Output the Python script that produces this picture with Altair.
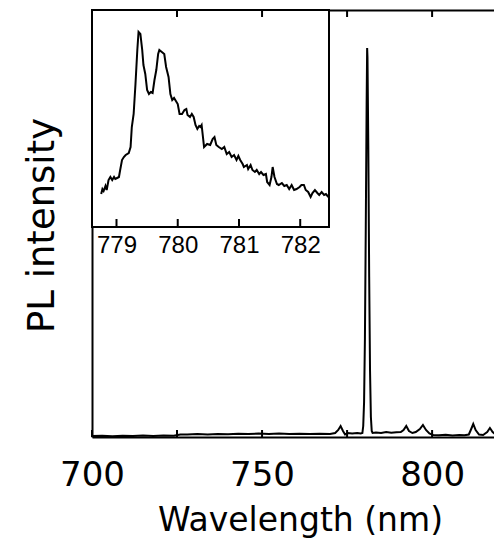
import altair as alt
import pandas as pd

# ---------------- data ----------------
main_wl = [700, 703, 706, 709, 712, 715, 718, 721, 724, 726, 728, 731, 734, 737, 740, 743,
           746, 749, 752, 755, 758, 761, 764, 767, 770, 771.5, 772.4, 773.1, 773.8, 774.4,
           775.2, 776.5, 778, 779, 779.5, 779.75, 780, 780.25, 780.5, 780.75, 780.9, 781.0,
           781.25, 781.5, 781.75, 782, 782.25, 782.5, 783.5, 785, 786.5, 788, 789.5, 790.8,
           791.6, 792.4, 793.2, 794.2, 795.2, 796.4, 797.3, 798.2, 799.2, 800.3, 802, 804,
           806, 808, 809.5, 810.8, 811.5, 812.1, 812.8, 813.8, 815, 816.2, 817, 817.8,
           818.8, 820.5]
main_val = [1.0, 1.2, 0.8, 1.3, 1.0, 1.4, 1.1, 1.5, 1.3, 2.6, 2.4, 2.9, 2.6, 3.1, 2.8, 3.3,
            3.0, 3.4, 3.0, 3.5, 3.1, 3.3, 2.9, 3.2, 3.0, 4.0, 7.0, 11.0, 6.0, 2.5,
            4.0, 3.5, 4.0, 3.5, 4.0, 11.0, 35.0, 99.0, 210.0, 333.0, 389.0, 380.0,
            288.0, 160.0, 66.0, 20.0, 6.0, 4.0, 4.5, 4.0, 5.0, 4.2, 4.8, 5.0,
            7.0, 11.0, 6.0, 4.0, 5.0, 8.0, 12.0, 7.0, 3.5, 2.0, 1.8, 2.2,
            1.6, 2.0, 1.8, 2.5, 8.0, 13.0, 7.0, 2.5, 2.0, 5.0, 9.0, 5.0,
            2.2, 2.0]

inset_wl = [778.75, 778.77, 778.79, 778.82, 778.84, 778.87, 778.9, 778.93, 778.96, 778.98,
            779.01, 779.04, 779.06, 779.09, 779.12, 779.15, 779.2, 779.23, 779.25, 779.28,
            779.31, 779.34, 779.36, 779.39, 779.42, 779.44, 779.47, 779.5, 779.53, 779.56,
            779.59, 779.62, 779.65, 779.68, 779.7, 779.74, 779.78, 779.81, 779.85, 779.88,
            779.91, 779.94, 779.96, 780.0, 780.03, 780.07, 780.11, 780.14, 780.16, 780.2,
            780.23, 780.26, 780.29, 780.32, 780.35, 780.37, 780.39, 780.43, 780.48, 780.53,
            780.57, 780.6, 780.63, 780.67, 780.72, 780.76, 780.8, 780.84, 780.88, 780.92,
            780.96, 780.99, 781.02, 781.06, 781.08, 781.13, 781.15, 781.19, 781.22, 781.26,
            781.29, 781.33, 781.36, 781.4, 781.44, 781.46, 781.5, 781.53, 781.55, 781.58,
            781.62, 781.65, 781.7, 781.74, 781.78, 781.82, 781.86, 781.9, 781.94, 781.99,
            782.02, 782.06, 782.09, 782.13, 782.17, 782.2, 782.24, 782.28, 782.31, 782.35,
            782.39, 782.42, 782.46]
inset_val = [33, 38, 36, 41, 37, 47, 50, 47, 50, 48,
             49, 50, 57, 67, 70, 72, 74, 80, 100, 113,
             143, 177, 195, 193, 177, 162, 153, 137, 133, 135,
             134, 147, 157, 173, 177, 175, 173, 160, 150, 133,
             127, 129, 127, 123, 113, 113, 117, 118, 112, 110,
             113, 110, 102, 98, 101, 100, 102, 80, 83, 82,
             88, 90, 82, 80, 78, 80, 73, 75, 70, 72,
             67, 71, 67, 63, 60, 62, 58, 62, 57, 55,
             57, 53, 55, 52, 53, 45, 42, 50, 60, 50,
             43, 42, 44, 41, 42, 38, 42, 37, 38, 40,
             42, 42, 37, 35, 30, 34, 37, 34, 32, 35,
             32, 33, 30]

main_ticks = [700, 725, 750, 775, 800]
main_labels = [700, 750, 800]
inset_ticks = [779, 780, 781, 782]

MAIN_X = [700, 818.2]
MAIN_Y = [0, 427]
INSET_X = [778.6, 782.47]
INSET_Y = [0, 217]

main_df = pd.DataFrame({"wl": main_wl, "val": main_val})
inset_df = pd.DataFrame({"wl": inset_wl, "val": inset_val})
mt_df = pd.DataFrame({"wl": main_ticks})
it_df = pd.DataFrame({"wl": inset_ticks})
box_df = pd.DataFrame({"x0": [INSET_X[0]], "x1": [INSET_X[1]], "y0": [INSET_Y[0]], "y1": [INSET_Y[1]]})

W, H = 402, 427
IW, IH = 237, 217

main_x_scale = alt.Scale(domain=MAIN_X, nice=False, zero=False)
main_y_scale = alt.Scale(domain=MAIN_Y, nice=False, zero=False)
inset_x_scale = alt.Scale(domain=INSET_X, range=[0, IW], nice=False, zero=False)
inset_y_scale = alt.Scale(domain=INSET_Y, range=[IH, 0], nice=False, zero=False)

MAIN_FONT = "DejaVu Sans"
INSET_FONT = "Liberation Sans"

main_line = alt.Chart(main_df).mark_line(color="black", strokeWidth=2, clip=True).encode(
    x=alt.X("wl:Q", scale=main_x_scale,
            axis=alt.Axis(orient="bottom", values=main_labels, format="d", ticks=False,
                          domain=True, domainColor="black", domainWidth=2, grid=False,
                          labelFont=MAIN_FONT, labelFontSize=34, labelColor="black",
                          labelPadding=21, labelFlush=False,
                          title="Wavelength (nm)", titleFont=MAIN_FONT, titleFontSize=33,
                          titleFontWeight="normal", titleColor="black",
                          titleX=208, titleY=67, titleBaseline="top")),
    y=alt.Y("val:Q", scale=main_y_scale,
            axis=alt.Axis(orient="left", ticks=False, labels=False, grid=False,
                          domain=True, domainColor="black", domainWidth=2,
                          title="PL intensity", titleFont=MAIN_FONT, titleFontSize=37,
                          titleFontWeight="normal", titleColor="black",
                          titleAngle=270, titleX=-39, titleY=215,
                          titleBaseline="alphabetic", titleAlign="center")),
)

inset_box = alt.Chart(box_df).mark_rect(fill="white", stroke="black", strokeWidth=2).encode(
    x=alt.X("x0:Q", scale=inset_x_scale, axis=None),
    x2="x1:Q",
    y=alt.Y("y0:Q", scale=inset_y_scale, axis=None),
    y2="y1:Q",
)

inset_line = alt.Chart(inset_df).mark_line(color="black", strokeWidth=2).encode(
    x=alt.X("wl:Q", scale=inset_x_scale,
            axis=alt.Axis(orient="bottom", offset=-(H - IH), values=inset_ticks, format="d",
                          ticks=False, domain=False, grid=False,
                          labelFont=INSET_FONT, labelFontSize=24, labelColor="black",
                          labelPadding=6, labelFlush=False, title=None)),
    y=alt.Y("val:Q", scale=inset_y_scale, axis=None),
)

inset_tick_marks = alt.Chart(it_df).mark_rule(color="black", strokeWidth=2).encode(
    x=alt.X("wl:Q", scale=inset_x_scale, axis=None),
    y=alt.value(IH - 8),
    y2=alt.value(IH),
)

main_top_ticks = alt.Chart(mt_df).mark_rule(color="black", strokeWidth=2).encode(
    x=alt.X("wl:Q", scale=main_x_scale,
            axis=alt.Axis(orient="top", labels=False, ticks=False, grid=False,
                          domain=True, domainColor="black", domainWidth=2, title=None)),
    y=alt.value(0),
    y2=alt.value(7),
)

main_bottom_ticks = alt.Chart(mt_df).mark_rule(color="black", strokeWidth=2).encode(
    x=alt.X("wl:Q", scale=main_x_scale, axis=None),
    y=alt.value(H - 7),
    y2=alt.value(H),
)

chart = alt.layer(
    main_line, inset_box, inset_line, inset_tick_marks, main_top_ticks, main_bottom_ticks
).resolve_scale(
    x="independent", y="independent"
).resolve_axis(
    x="independent", y="independent"
).properties(
    width=W, height=H,
    autosize=alt.AutoSizeParams(type="none"),
    padding={"left": 84, "top": 2, "right": 0, "bottom": 103},
).configure_view(
    stroke=None
).configure(
    background="white"
)

chart.save("out.html", embed_options={"renderer": "svg", "actions": False})
